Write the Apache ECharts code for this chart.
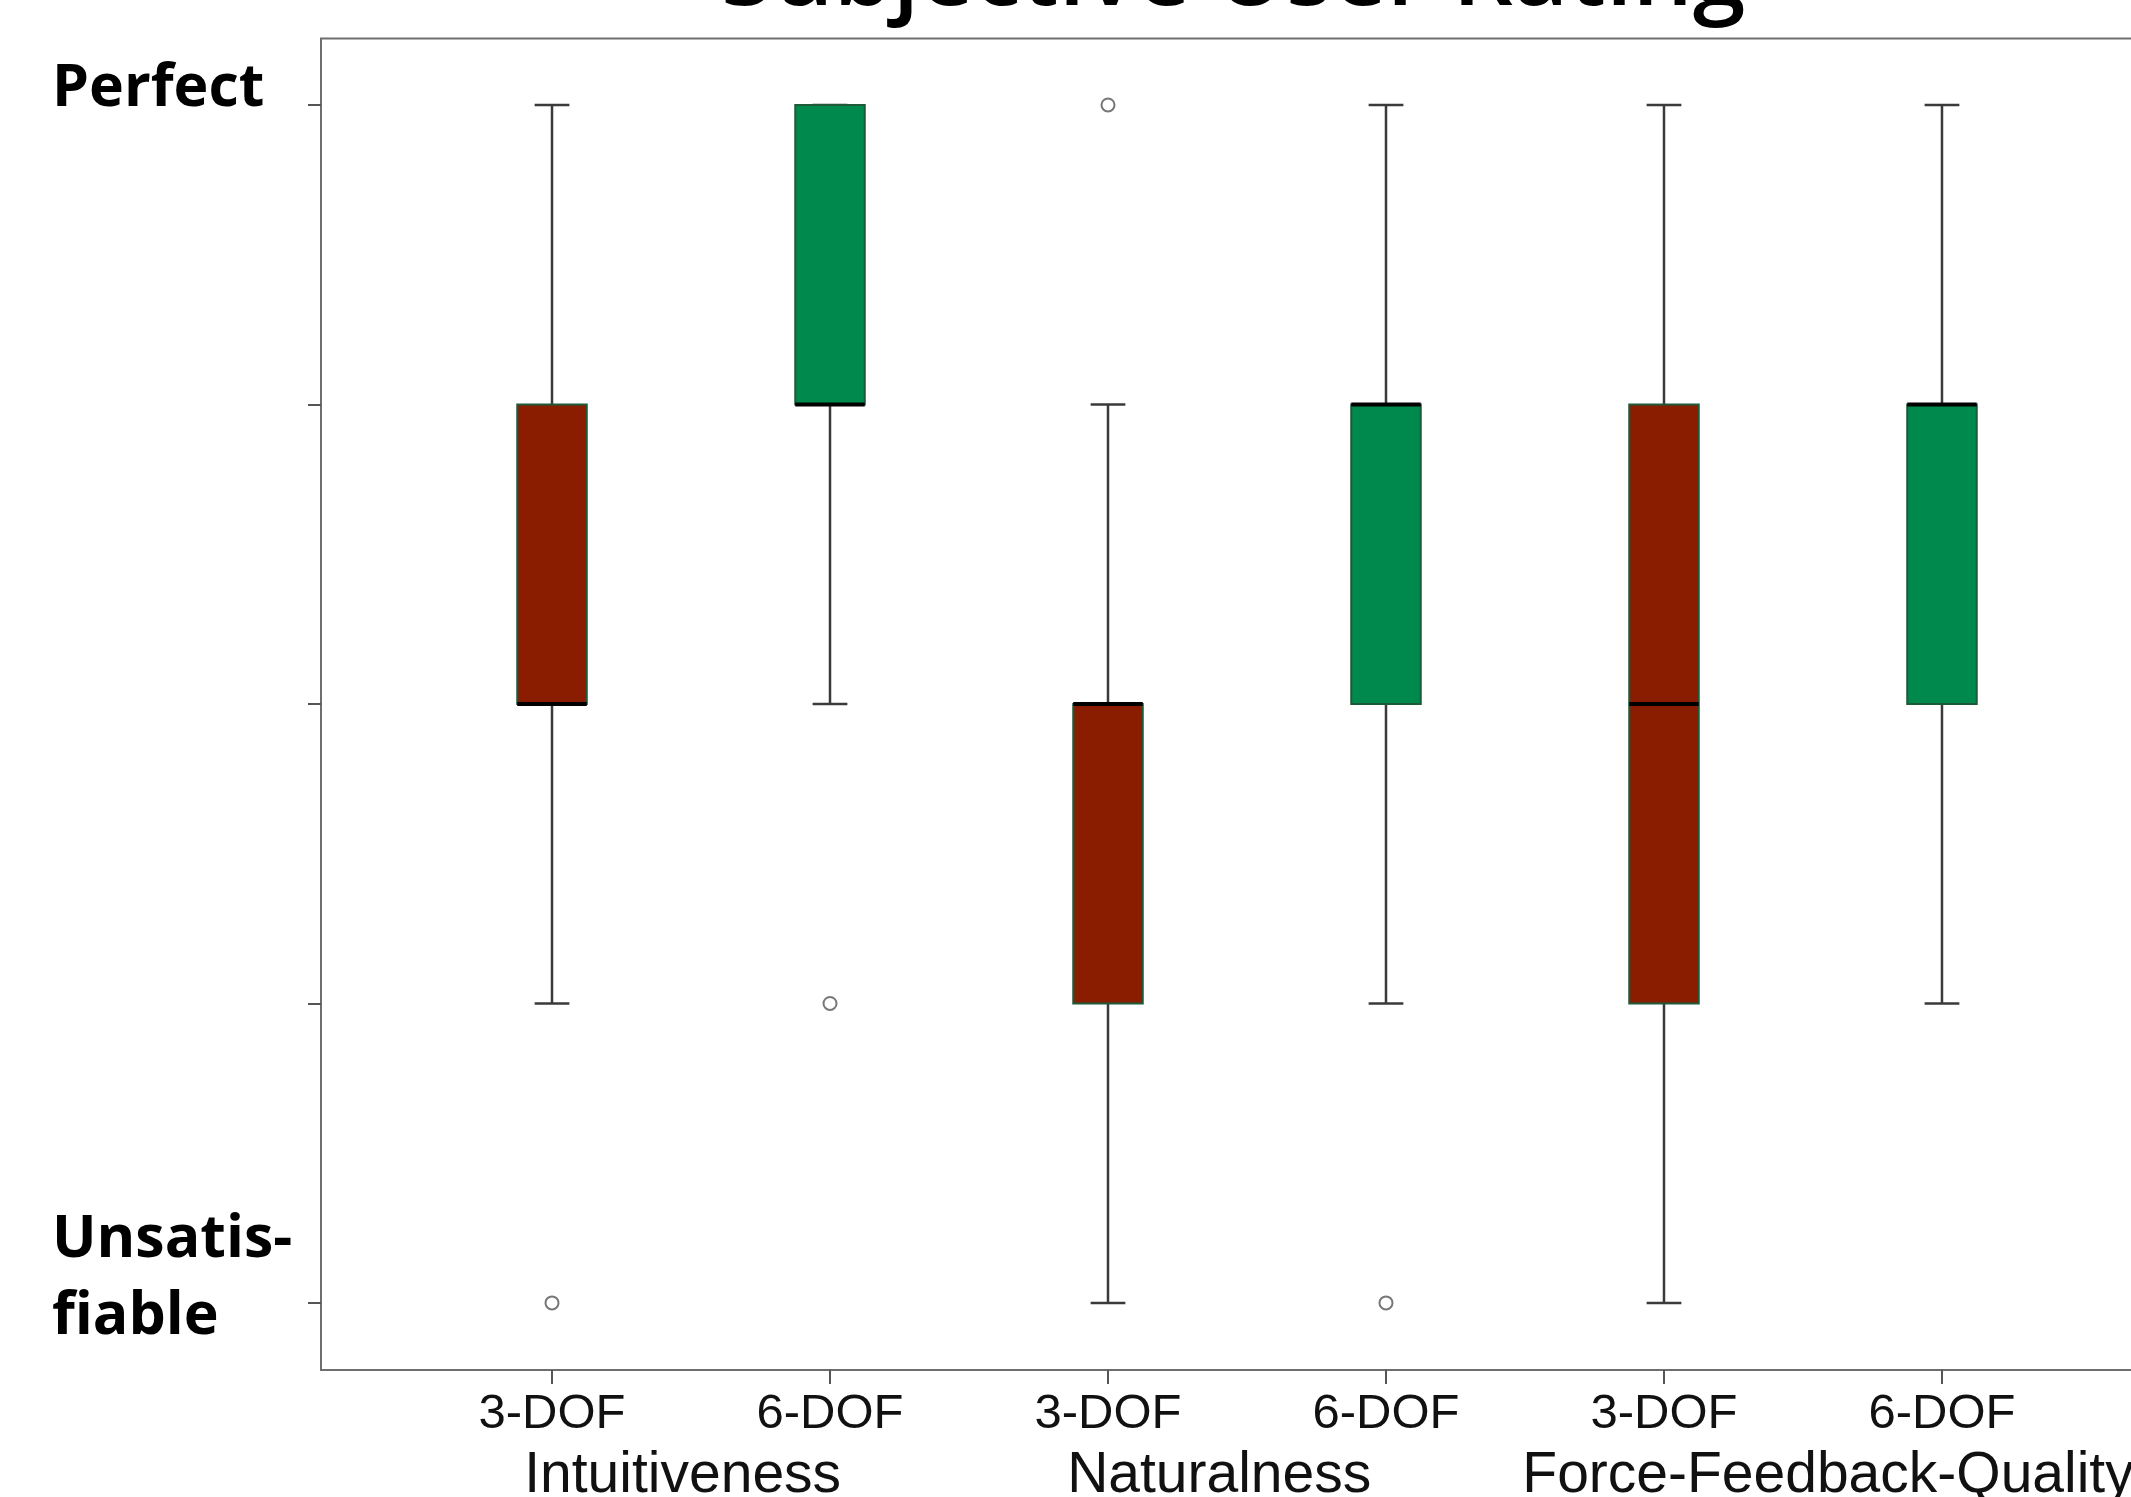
<!DOCTYPE html>
<html>
<head>
<meta charset="utf-8">
<script src="https://cdn.jsdelivr.net/npm/echarts@6/dist/echarts.min.js"></script>
<style>
  html, body { margin: 0; padding: 0; background: #fff; }
  #chart { width: 2131px; height: 1497px; }
</style>
</head>
<body>
<div id="chart"></div>
<script>
// x position, min, Q1, median, Q3, max
const dofLabels = ['3-DOF', '6-DOF', '3-DOF', '6-DOF', '3-DOF', '6-DOF'];
const groupLabels = ['Intuitiveness', 'Naturalness', 'Force-Feedback-Quality'];
const dof3Boxes = [
  [1, 2, 3, 3, 4, 5],
  [3, 1, 2, 3, 3, 4],
  [5, 1, 2, 3, 4, 5]
];
const dof6Boxes = [
  [2, 3, 4, 4, 5, 5],
  [4, 2, 3, 4, 4, 5],
  [6, 2, 3, 4, 4, 5]
];
const outliers = [[1, 1], [2, 2], [3, 5], [4, 1]];

const groupPos = [1.47, 3.40, 5.59];

const chart = echarts.init(document.getElementById('chart'));

// draws one R-style box: whiskers with short caps, filled box, thick median
const renderBox = (color) => (params, api) => {
  const x = api.value(0);
  const lo = api.coord([x, api.value(1)]);
  const q1 = api.coord([x, api.value(2)]);
  const med = api.coord([x, api.value(3)]);
  const q3 = api.coord([x, api.value(4)]);
  const hi = api.coord([x, api.value(5)]);
  const w = api.size([1, 0])[0] * 0.25;
  const cap = w / 2;
  const cx = lo[0];
  const whisker = { stroke: '#3a3a3a', lineWidth: 2.5 };
  return {
    type: 'group',
    children: [
      { type: 'line', shape: { x1: cx, y1: q1[1], x2: cx, y2: lo[1] }, style: whisker },
      { type: 'line', shape: { x1: cx, y1: q3[1], x2: cx, y2: hi[1] }, style: whisker },
      { type: 'line', shape: { x1: cx - cap / 2, y1: lo[1], x2: cx + cap / 2, y2: lo[1] }, style: whisker },
      { type: 'line', shape: { x1: cx - cap / 2, y1: hi[1], x2: cx + cap / 2, y2: hi[1] }, style: whisker },
      { type: 'rect', shape: { x: cx - w / 2, y: q3[1], width: w, height: q1[1] - q3[1] },
        style: { fill: color, stroke: '#1d5a3a', lineWidth: 2 } },
      { type: 'line', shape: { x1: cx - w / 2, y1: med[1], x2: cx + w / 2, y2: med[1] },
        style: { stroke: '#000', lineWidth: 4 } }
    ]
  };
};

const option = {
  animation: false,
  backgroundColor: '#fff',
  title: {
    text: 'Subjective User Rating',
    left: 716,
    top: -75,
    textStyle: { fontFamily: 'Open Sans', fontWeight: 600, fontSize: 95, color: '#000' }
  },
  grid: {
    left: 321, top: 38.5, right: -42, bottom: 127,
    outerBoundsMode: 'none',
    show: true, borderColor: '#6e6e6e', borderWidth: 2
  },
  xAxis: [
    {
      type: 'value', min: 0.169, max: 6.831,
      splitLine: { show: false },
      axisLine: { show: false },
      axisTick: { show: true, length: 14, customValues: [1, 2, 3, 4, 5, 6], lineStyle: { color: '#555', width: 2 } },
      axisLabel: {
        customValues: [1, 2, 3, 4, 5, 6],
        formatter: (v) => dofLabels[Math.round(v) - 1],
        margin: 20, fontFamily: 'Liberation Sans', fontSize: 49, color: '#111'
      }
    },
    {
      type: 'value', min: 0.169, max: 6.831, position: 'bottom',
      splitLine: { show: false }, axisLine: { show: false }, axisTick: { show: false },
      axisLabel: {
        customValues: groupPos,
        formatter: (v) => groupLabels[groupPos.indexOf(v)],
        margin: 78, fontFamily: 'Liberation Sans', fontSize: 57, color: '#111'
      }
    }
  ],
  yAxis: {
    type: 'value', min: 0.776, max: 5.222,
    splitLine: { show: false },
    axisLine: { show: false },
    axisTick: { show: true, length: 13, customValues: [1, 2, 3, 4, 5], lineStyle: { color: '#555', width: 2 } },
    axisLabel: {
      customValues: [1, 5],
      align: 'left',
      verticalAlign: 'middle',
      margin: 269,
      formatter: (v) => v === 5 ? '{p|Perfect}' : '{u|Unsatis-}\n{u|fiable}\n{s| }',
      rich: {
        p: { fontFamily: 'Open Sans', fontWeight: 'bold', fontSize: 59, lineHeight: 59, padding: [0, 0, 32, 0], color: '#000' },
        u: { fontFamily: 'Open Sans', fontWeight: 'bold', fontSize: 59, lineHeight: 77, color: '#000' },
        s: { fontSize: 10, lineHeight: 49 }
      }
    }
  },
  series: [
    { type: 'custom', name: '3-DOF', data: dof3Boxes, renderItem: renderBox('#8a1c00'), encode: { x: 0, y: [1, 2, 3, 4, 5] } },
    { type: 'custom', name: '6-DOF', data: dof6Boxes, renderItem: renderBox('#00894c'), encode: { x: 0, y: [1, 2, 3, 4, 5] } },
    {
      type: 'scatter', name: 'outliers', data: outliers,
      symbol: 'circle', symbolSize: 13,
      itemStyle: { color: '#fff', borderColor: '#555', borderWidth: 2 }
    }
  ]
};

chart.setOption(option);
</script>
</body>
</html>
